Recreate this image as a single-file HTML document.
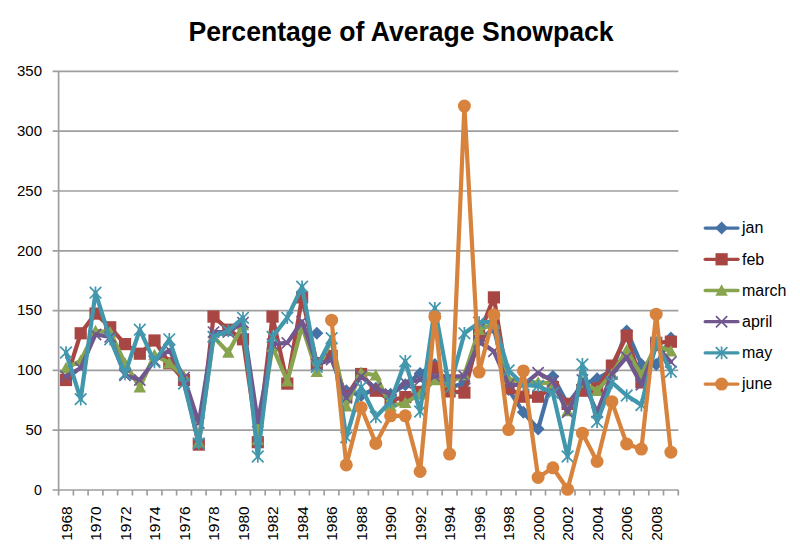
<!DOCTYPE html><html><head><meta charset="utf-8"><style>html,body{margin:0;padding:0;background:#fff;width:800px;height:557px;overflow:hidden}svg{display:block}text{font-family:"Liberation Sans",sans-serif}</style></head><body>
<svg width="800" height="557" viewBox="0 0 800 557">
<rect width="800" height="557" fill="#fff"/>
<text x="401" y="41.3" text-anchor="middle" font-size="27.5" font-weight="bold" fill="#000" textLength="425" lengthAdjust="spacingAndGlyphs">Percentage of Average Snowpack</text>
<path d="M52.6 490.0H678.3 M52.6 430.2H678.3 M52.6 370.4H678.3 M52.6 310.6H678.3 M52.6 250.8H678.3 M52.6 191.0H678.3 M52.6 131.2H678.3 M52.6 71.4H678.3" stroke="#9E9E9E" stroke-width="1.7" fill="none"/>
<path d="M58.6 71.4V490.6" stroke="#9E9E9E" stroke-width="1.7" fill="none"/>
<path d="M58.6 490.0V495.5 M73.4 490.0V495.5 M88.1 490.0V495.5 M102.9 490.0V495.5 M117.6 490.0V495.5 M132.4 490.0V495.5 M147.1 490.0V495.5 M161.9 490.0V495.5 M176.6 490.0V495.5 M191.4 490.0V495.5 M206.1 490.0V495.5 M220.9 490.0V495.5 M235.7 490.0V495.5 M250.4 490.0V495.5 M265.2 490.0V495.5 M279.9 490.0V495.5 M294.7 490.0V495.5 M309.4 490.0V495.5 M324.2 490.0V495.5 M338.9 490.0V495.5 M353.7 490.0V495.5 M368.4 490.0V495.5 M383.2 490.0V495.5 M398.0 490.0V495.5 M412.7 490.0V495.5 M427.5 490.0V495.5 M442.2 490.0V495.5 M457.0 490.0V495.5 M471.7 490.0V495.5 M486.5 490.0V495.5 M501.2 490.0V495.5 M516.0 490.0V495.5 M530.8 490.0V495.5 M545.5 490.0V495.5 M560.3 490.0V495.5 M575.0 490.0V495.5 M589.8 490.0V495.5 M604.5 490.0V495.5 M619.3 490.0V495.5 M634.0 490.0V495.5 M648.8 490.0V495.5 M663.5 490.0V495.5 M678.3 490.0V495.5" stroke="#9E9E9E" stroke-width="1.7" fill="none"/>
<text x="34.1" y="494.8" font-size="15.5" fill="#000" textLength="7.9" lengthAdjust="spacingAndGlyphs">0</text>
<text x="25.4" y="435.0" font-size="15.5" fill="#000" textLength="16.6" lengthAdjust="spacingAndGlyphs">50</text>
<text x="17" y="375.2" font-size="15.5" fill="#000" textLength="25" lengthAdjust="spacingAndGlyphs">100</text>
<text x="17" y="315.4" font-size="15.5" fill="#000" textLength="25" lengthAdjust="spacingAndGlyphs">150</text>
<text x="17" y="255.6" font-size="15.5" fill="#000" textLength="25" lengthAdjust="spacingAndGlyphs">200</text>
<text x="17" y="195.8" font-size="15.5" fill="#000" textLength="25" lengthAdjust="spacingAndGlyphs">250</text>
<text x="17" y="136.0" font-size="15.5" fill="#000" textLength="25" lengthAdjust="spacingAndGlyphs">300</text>
<text x="17" y="76.2" font-size="15.5" fill="#000" textLength="25" lengthAdjust="spacingAndGlyphs">350</text>
<text transform="translate(71.5 540.8) rotate(-90)" text-anchor="start" font-size="15.5" fill="#000">1968</text>
<text transform="translate(101.0 540.8) rotate(-90)" text-anchor="start" font-size="15.5" fill="#000">1970</text>
<text transform="translate(130.5 540.8) rotate(-90)" text-anchor="start" font-size="15.5" fill="#000">1972</text>
<text transform="translate(160.0 540.8) rotate(-90)" text-anchor="start" font-size="15.5" fill="#000">1974</text>
<text transform="translate(189.5 540.8) rotate(-90)" text-anchor="start" font-size="15.5" fill="#000">1976</text>
<text transform="translate(219.0 540.8) rotate(-90)" text-anchor="start" font-size="15.5" fill="#000">1978</text>
<text transform="translate(248.5 540.8) rotate(-90)" text-anchor="start" font-size="15.5" fill="#000">1980</text>
<text transform="translate(278.0 540.8) rotate(-90)" text-anchor="start" font-size="15.5" fill="#000">1982</text>
<text transform="translate(307.6 540.8) rotate(-90)" text-anchor="start" font-size="15.5" fill="#000">1984</text>
<text transform="translate(337.1 540.8) rotate(-90)" text-anchor="start" font-size="15.5" fill="#000">1986</text>
<text transform="translate(366.6 540.8) rotate(-90)" text-anchor="start" font-size="15.5" fill="#000">1988</text>
<text transform="translate(396.1 540.8) rotate(-90)" text-anchor="start" font-size="15.5" fill="#000">1990</text>
<text transform="translate(425.6 540.8) rotate(-90)" text-anchor="start" font-size="15.5" fill="#000">1992</text>
<text transform="translate(455.1 540.8) rotate(-90)" text-anchor="start" font-size="15.5" fill="#000">1994</text>
<text transform="translate(484.6 540.8) rotate(-90)" text-anchor="start" font-size="15.5" fill="#000">1996</text>
<text transform="translate(514.1 540.8) rotate(-90)" text-anchor="start" font-size="15.5" fill="#000">1998</text>
<text transform="translate(543.6 540.8) rotate(-90)" text-anchor="start" font-size="15.5" fill="#000">2000</text>
<text transform="translate(573.1 540.8) rotate(-90)" text-anchor="start" font-size="15.5" fill="#000">2002</text>
<text transform="translate(602.6 540.8) rotate(-90)" text-anchor="start" font-size="15.5" fill="#000">2004</text>
<text transform="translate(632.2 540.8) rotate(-90)" text-anchor="start" font-size="15.5" fill="#000">2006</text>
<text transform="translate(661.7 540.8) rotate(-90)" text-anchor="start" font-size="15.5" fill="#000">2008</text>
<path d="M316.8 333.3M346.3 390.7L361.1 395.5L375.8 388.3L390.6 394.3L405.3 384.8L420.1 373.4L434.8 364.4L449.6 387.1L464.4 383.6L479.1 340.5L493.9 328.5L508.6 389.5L523.4 412.3L538.1 429.0L552.9 376.4L567.6 403.9L582.4 384.8L597.1 378.8L611.9 370.4L626.7 330.9L641.4 364.4L656.2 364.4L670.9 338.1" stroke="#4571A5" stroke-width="4.2" fill="none" stroke-linejoin="round" stroke-linecap="round"/>
<path d="M316.8 326.8L323.3 333.3L316.8 339.8L310.3 333.3Z" fill="#4571A5"/>
<path d="M346.3 384.2L352.8 390.7L346.3 397.2L339.8 390.7Z" fill="#4571A5"/>
<path d="M361.1 389.0L367.6 395.5L361.1 402.0L354.6 395.5Z" fill="#4571A5"/>
<path d="M375.8 381.8L382.3 388.3L375.8 394.8L369.3 388.3Z" fill="#4571A5"/>
<path d="M390.6 387.8L397.1 394.3L390.6 400.8L384.1 394.3Z" fill="#4571A5"/>
<path d="M405.3 378.3L411.8 384.8L405.3 391.3L398.8 384.8Z" fill="#4571A5"/>
<path d="M420.1 366.9L426.6 373.4L420.1 379.9L413.6 373.4Z" fill="#4571A5"/>
<path d="M434.8 357.9L441.3 364.4L434.8 370.9L428.3 364.4Z" fill="#4571A5"/>
<path d="M449.6 380.6L456.1 387.1L449.6 393.6L443.1 387.1Z" fill="#4571A5"/>
<path d="M464.4 377.1L470.9 383.6L464.4 390.1L457.9 383.6Z" fill="#4571A5"/>
<path d="M479.1 334.0L485.6 340.5L479.1 347.0L472.6 340.5Z" fill="#4571A5"/>
<path d="M493.9 322.0L500.4 328.5L493.9 335.0L487.4 328.5Z" fill="#4571A5"/>
<path d="M508.6 383.0L515.1 389.5L508.6 396.0L502.1 389.5Z" fill="#4571A5"/>
<path d="M523.4 405.8L529.9 412.3L523.4 418.8L516.9 412.3Z" fill="#4571A5"/>
<path d="M538.1 422.5L544.6 429.0L538.1 435.5L531.6 429.0Z" fill="#4571A5"/>
<path d="M552.9 369.9L559.4 376.4L552.9 382.9L546.4 376.4Z" fill="#4571A5"/>
<path d="M567.6 397.4L574.1 403.9L567.6 410.4L561.1 403.9Z" fill="#4571A5"/>
<path d="M582.4 378.3L588.9 384.8L582.4 391.3L575.9 384.8Z" fill="#4571A5"/>
<path d="M597.1 372.3L603.6 378.8L597.1 385.3L590.6 378.8Z" fill="#4571A5"/>
<path d="M611.9 363.9L618.4 370.4L611.9 376.9L605.4 370.4Z" fill="#4571A5"/>
<path d="M626.7 324.4L633.2 330.9L626.7 337.4L620.2 330.9Z" fill="#4571A5"/>
<path d="M641.4 357.9L647.9 364.4L641.4 370.9L634.9 364.4Z" fill="#4571A5"/>
<path d="M656.2 357.9L662.7 364.4L656.2 370.9L649.7 364.4Z" fill="#4571A5"/>
<path d="M670.9 331.6L677.4 338.1L670.9 344.6L664.4 338.1Z" fill="#4571A5"/>
<path d="M66.0 380.0L80.7 333.3L95.5 313.6L110.2 327.3L125.0 344.1L139.8 353.7L154.5 340.5L169.3 363.2L184.0 380.0L198.8 444.6L213.5 316.6L228.3 329.7L243.0 339.3L257.8 442.2L272.5 316.6L287.3 383.6L302.1 297.4L316.8 363.2L331.6 356.0L346.3 396.7L361.1 374.0L375.8 390.7L390.6 400.3L405.3 397.1L420.1 391.9L434.8 368.0L449.6 391.4L464.4 392.6L479.1 334.5L493.9 297.4L508.6 388.3L523.4 396.7L538.1 396.7L552.9 387.1L567.6 403.9L582.4 390.7L597.1 388.3L611.9 365.6L626.7 335.7L641.4 382.4L656.2 342.9L670.9 341.7" stroke="#A84643" stroke-width="4.2" fill="none" stroke-linejoin="round" stroke-linecap="round"/>
<rect x="59.9" y="373.9" width="12.2" height="12.2" fill="#A84643"/>
<rect x="74.6" y="327.2" width="12.2" height="12.2" fill="#A84643"/>
<rect x="89.4" y="307.5" width="12.2" height="12.2" fill="#A84643"/>
<rect x="104.1" y="321.2" width="12.2" height="12.2" fill="#A84643"/>
<rect x="118.9" y="338.0" width="12.2" height="12.2" fill="#A84643"/>
<rect x="133.7" y="347.6" width="12.2" height="12.2" fill="#A84643"/>
<rect x="148.4" y="334.4" width="12.2" height="12.2" fill="#A84643"/>
<rect x="163.2" y="357.1" width="12.2" height="12.2" fill="#A84643"/>
<rect x="177.9" y="373.9" width="12.2" height="12.2" fill="#A84643"/>
<rect x="192.7" y="438.5" width="12.2" height="12.2" fill="#A84643"/>
<rect x="207.4" y="310.5" width="12.2" height="12.2" fill="#A84643"/>
<rect x="222.2" y="323.6" width="12.2" height="12.2" fill="#A84643"/>
<rect x="236.9" y="333.2" width="12.2" height="12.2" fill="#A84643"/>
<rect x="251.7" y="436.1" width="12.2" height="12.2" fill="#A84643"/>
<rect x="266.4" y="310.5" width="12.2" height="12.2" fill="#A84643"/>
<rect x="281.2" y="377.5" width="12.2" height="12.2" fill="#A84643"/>
<rect x="296.0" y="291.3" width="12.2" height="12.2" fill="#A84643"/>
<rect x="310.7" y="357.1" width="12.2" height="12.2" fill="#A84643"/>
<rect x="325.5" y="349.9" width="12.2" height="12.2" fill="#A84643"/>
<rect x="340.2" y="390.6" width="12.2" height="12.2" fill="#A84643"/>
<rect x="355.0" y="367.9" width="12.2" height="12.2" fill="#A84643"/>
<rect x="369.7" y="384.6" width="12.2" height="12.2" fill="#A84643"/>
<rect x="384.5" y="394.2" width="12.2" height="12.2" fill="#A84643"/>
<rect x="399.2" y="391.0" width="12.2" height="12.2" fill="#A84643"/>
<rect x="414.0" y="385.8" width="12.2" height="12.2" fill="#A84643"/>
<rect x="428.7" y="361.9" width="12.2" height="12.2" fill="#A84643"/>
<rect x="443.5" y="385.3" width="12.2" height="12.2" fill="#A84643"/>
<rect x="458.3" y="386.5" width="12.2" height="12.2" fill="#A84643"/>
<rect x="473.0" y="328.4" width="12.2" height="12.2" fill="#A84643"/>
<rect x="487.8" y="291.3" width="12.2" height="12.2" fill="#A84643"/>
<rect x="502.5" y="382.2" width="12.2" height="12.2" fill="#A84643"/>
<rect x="517.3" y="390.6" width="12.2" height="12.2" fill="#A84643"/>
<rect x="532.0" y="390.6" width="12.2" height="12.2" fill="#A84643"/>
<rect x="546.8" y="381.0" width="12.2" height="12.2" fill="#A84643"/>
<rect x="561.5" y="397.8" width="12.2" height="12.2" fill="#A84643"/>
<rect x="576.3" y="384.6" width="12.2" height="12.2" fill="#A84643"/>
<rect x="591.0" y="382.2" width="12.2" height="12.2" fill="#A84643"/>
<rect x="605.8" y="359.5" width="12.2" height="12.2" fill="#A84643"/>
<rect x="620.6" y="329.6" width="12.2" height="12.2" fill="#A84643"/>
<rect x="635.3" y="376.3" width="12.2" height="12.2" fill="#A84643"/>
<rect x="650.1" y="336.8" width="12.2" height="12.2" fill="#A84643"/>
<rect x="664.8" y="335.6" width="12.2" height="12.2" fill="#A84643"/>
<path d="M66.0 368.0L80.7 360.8L95.5 330.9L110.2 332.1L125.0 363.2L139.8 387.1L154.5 354.9L169.3 363.2L184.0 376.4L198.8 442.2L213.5 336.9L228.3 352.5L243.0 325.0L257.8 439.8L272.5 346.5L287.3 381.2L302.1 326.1L316.8 371.6L331.6 339.3L346.3 406.3L361.1 372.8L375.8 375.2L390.6 406.3L405.3 402.8L420.1 394.3L434.8 380.0L449.6 382.4L464.4 374.9L479.1 329.7L493.9 323.8L508.6 378.8L523.4 382.4L538.1 382.4L552.9 383.6L567.6 411.1L582.4 382.4L597.1 390.7L611.9 374.0L626.7 350.1L641.4 375.2L656.2 345.3L670.9 351.3" stroke="#88A44E" stroke-width="4.2" fill="none" stroke-linejoin="round" stroke-linecap="round"/>
<path d="M66.0 361.8L72.2 373.3L59.8 373.3Z" fill="#88A44E"/>
<path d="M80.7 354.6L86.9 366.1L74.5 366.1Z" fill="#88A44E"/>
<path d="M95.5 324.7L101.7 336.2L89.3 336.2Z" fill="#88A44E"/>
<path d="M110.2 325.9L116.4 337.4L104.0 337.4Z" fill="#88A44E"/>
<path d="M125.0 357.0L131.2 368.5L118.8 368.5Z" fill="#88A44E"/>
<path d="M139.8 380.9L146.0 392.4L133.6 392.4Z" fill="#88A44E"/>
<path d="M154.5 348.7L160.7 360.1L148.3 360.1Z" fill="#88A44E"/>
<path d="M169.3 357.0L175.5 368.5L163.1 368.5Z" fill="#88A44E"/>
<path d="M184.0 370.2L190.2 381.6L177.8 381.6Z" fill="#88A44E"/>
<path d="M198.8 436.0L205.0 447.4L192.6 447.4Z" fill="#88A44E"/>
<path d="M213.5 330.7L219.7 342.2L207.3 342.2Z" fill="#88A44E"/>
<path d="M228.3 346.3L234.5 357.7L222.1 357.7Z" fill="#88A44E"/>
<path d="M243.0 318.8L249.2 330.2L236.8 330.2Z" fill="#88A44E"/>
<path d="M257.8 433.6L264.0 445.0L251.6 445.0Z" fill="#88A44E"/>
<path d="M272.5 340.3L278.7 351.8L266.3 351.8Z" fill="#88A44E"/>
<path d="M287.3 375.0L293.5 386.4L281.1 386.4Z" fill="#88A44E"/>
<path d="M302.1 319.9L308.3 331.4L295.9 331.4Z" fill="#88A44E"/>
<path d="M316.8 365.4L323.0 376.9L310.6 376.9Z" fill="#88A44E"/>
<path d="M331.6 333.1L337.8 344.6L325.4 344.6Z" fill="#88A44E"/>
<path d="M346.3 400.1L352.5 411.5L340.1 411.5Z" fill="#88A44E"/>
<path d="M361.1 366.6L367.3 378.1L354.9 378.1Z" fill="#88A44E"/>
<path d="M375.8 369.0L382.0 380.5L369.6 380.5Z" fill="#88A44E"/>
<path d="M390.6 400.1L396.8 411.5L384.4 411.5Z" fill="#88A44E"/>
<path d="M405.3 396.6L411.5 408.1L399.1 408.1Z" fill="#88A44E"/>
<path d="M420.1 388.1L426.3 399.6L413.9 399.6Z" fill="#88A44E"/>
<path d="M434.8 373.8L441.0 385.2L428.6 385.2Z" fill="#88A44E"/>
<path d="M449.6 376.2L455.8 387.6L443.4 387.6Z" fill="#88A44E"/>
<path d="M464.4 368.7L470.6 380.2L458.2 380.2Z" fill="#88A44E"/>
<path d="M479.1 323.5L485.3 335.0L472.9 335.0Z" fill="#88A44E"/>
<path d="M493.9 317.6L500.1 329.0L487.7 329.0Z" fill="#88A44E"/>
<path d="M508.6 372.6L514.8 384.0L502.4 384.0Z" fill="#88A44E"/>
<path d="M523.4 376.2L529.6 387.6L517.2 387.6Z" fill="#88A44E"/>
<path d="M538.1 376.2L544.3 387.6L531.9 387.6Z" fill="#88A44E"/>
<path d="M552.9 377.4L559.1 388.8L546.7 388.8Z" fill="#88A44E"/>
<path d="M567.6 404.9L573.8 416.3L561.4 416.3Z" fill="#88A44E"/>
<path d="M582.4 376.2L588.6 387.6L576.2 387.6Z" fill="#88A44E"/>
<path d="M597.1 384.5L603.3 396.0L590.9 396.0Z" fill="#88A44E"/>
<path d="M611.9 367.8L618.1 379.3L605.7 379.3Z" fill="#88A44E"/>
<path d="M626.7 343.9L632.9 355.3L620.5 355.3Z" fill="#88A44E"/>
<path d="M641.4 369.0L647.6 380.5L635.2 380.5Z" fill="#88A44E"/>
<path d="M656.2 339.1L662.4 350.6L650.0 350.6Z" fill="#88A44E"/>
<path d="M670.9 345.1L677.1 356.5L664.7 356.5Z" fill="#88A44E"/>
<path d="M66.0 376.4L80.7 368.0L95.5 334.5L110.2 336.9L125.0 375.2L139.8 380.0L154.5 360.8L169.3 350.1L184.0 377.6L198.8 423.0L213.5 332.1L228.3 332.1L243.0 322.6L257.8 421.8L272.5 344.1L287.3 342.9L302.1 321.4L316.8 364.4L331.6 359.6L346.3 397.9L361.1 376.4L375.8 388.3L390.6 394.3L405.3 382.7L420.1 380.0L434.8 376.4L449.6 376.4L464.4 376.4L479.1 341.7L493.9 351.3L508.6 384.8L523.4 384.8L538.1 372.8L552.9 381.2L567.6 412.3L582.4 380.0L597.1 412.3L611.9 374.0L626.7 357.2L641.4 384.8L656.2 346.5L670.9 362.0" stroke="#70588E" stroke-width="4.2" fill="none" stroke-linejoin="round" stroke-linecap="round"/>
<path d="M60.4 370.8L71.6 382.0M71.6 370.8L60.4 382.0" stroke="#70588E" stroke-width="1.7" fill="none"/>
<path d="M75.1 362.4L86.3 373.6M86.3 362.4L75.1 373.6" stroke="#70588E" stroke-width="1.7" fill="none"/>
<path d="M89.9 328.9L101.1 340.1M101.1 328.9L89.9 340.1" stroke="#70588E" stroke-width="1.7" fill="none"/>
<path d="M104.6 331.3L115.8 342.5M115.8 331.3L104.6 342.5" stroke="#70588E" stroke-width="1.7" fill="none"/>
<path d="M119.4 369.6L130.6 380.8M130.6 369.6L119.4 380.8" stroke="#70588E" stroke-width="1.7" fill="none"/>
<path d="M134.2 374.4L145.4 385.6M145.4 374.4L134.2 385.6" stroke="#70588E" stroke-width="1.7" fill="none"/>
<path d="M148.9 355.2L160.1 366.4M160.1 355.2L148.9 366.4" stroke="#70588E" stroke-width="1.7" fill="none"/>
<path d="M163.7 344.5L174.9 355.7M174.9 344.5L163.7 355.7" stroke="#70588E" stroke-width="1.7" fill="none"/>
<path d="M178.4 372.0L189.6 383.2M189.6 372.0L178.4 383.2" stroke="#70588E" stroke-width="1.7" fill="none"/>
<path d="M193.2 417.4L204.4 428.6M204.4 417.4L193.2 428.6" stroke="#70588E" stroke-width="1.7" fill="none"/>
<path d="M207.9 326.5L219.1 337.7M219.1 326.5L207.9 337.7" stroke="#70588E" stroke-width="1.7" fill="none"/>
<path d="M222.7 326.5L233.9 337.7M233.9 326.5L222.7 337.7" stroke="#70588E" stroke-width="1.7" fill="none"/>
<path d="M237.4 317.0L248.6 328.2M248.6 317.0L237.4 328.2" stroke="#70588E" stroke-width="1.7" fill="none"/>
<path d="M252.2 416.2L263.4 427.4M263.4 416.2L252.2 427.4" stroke="#70588E" stroke-width="1.7" fill="none"/>
<path d="M266.9 338.5L278.1 349.7M278.1 338.5L266.9 349.7" stroke="#70588E" stroke-width="1.7" fill="none"/>
<path d="M281.7 337.3L292.9 348.5M292.9 337.3L281.7 348.5" stroke="#70588E" stroke-width="1.7" fill="none"/>
<path d="M296.5 315.8L307.7 327.0M307.7 315.8L296.5 327.0" stroke="#70588E" stroke-width="1.7" fill="none"/>
<path d="M311.2 358.8L322.4 370.0M322.4 358.8L311.2 370.0" stroke="#70588E" stroke-width="1.7" fill="none"/>
<path d="M326.0 354.0L337.2 365.2M337.2 354.0L326.0 365.2" stroke="#70588E" stroke-width="1.7" fill="none"/>
<path d="M340.7 392.3L351.9 403.5M351.9 392.3L340.7 403.5" stroke="#70588E" stroke-width="1.7" fill="none"/>
<path d="M355.5 370.8L366.7 382.0M366.7 370.8L355.5 382.0" stroke="#70588E" stroke-width="1.7" fill="none"/>
<path d="M370.2 382.7L381.4 393.9M381.4 382.7L370.2 393.9" stroke="#70588E" stroke-width="1.7" fill="none"/>
<path d="M385.0 388.7L396.2 399.9M396.2 388.7L385.0 399.9" stroke="#70588E" stroke-width="1.7" fill="none"/>
<path d="M399.7 377.1L410.9 388.3M410.9 377.1L399.7 388.3" stroke="#70588E" stroke-width="1.7" fill="none"/>
<path d="M414.5 374.4L425.7 385.6M425.7 374.4L414.5 385.6" stroke="#70588E" stroke-width="1.7" fill="none"/>
<path d="M429.2 370.8L440.4 382.0M440.4 370.8L429.2 382.0" stroke="#70588E" stroke-width="1.7" fill="none"/>
<path d="M444.0 370.8L455.2 382.0M455.2 370.8L444.0 382.0" stroke="#70588E" stroke-width="1.7" fill="none"/>
<path d="M458.8 370.8L470.0 382.0M470.0 370.8L458.8 382.0" stroke="#70588E" stroke-width="1.7" fill="none"/>
<path d="M473.5 336.1L484.7 347.3M484.7 336.1L473.5 347.3" stroke="#70588E" stroke-width="1.7" fill="none"/>
<path d="M488.3 345.7L499.5 356.9M499.5 345.7L488.3 356.9" stroke="#70588E" stroke-width="1.7" fill="none"/>
<path d="M503.0 379.2L514.2 390.4M514.2 379.2L503.0 390.4" stroke="#70588E" stroke-width="1.7" fill="none"/>
<path d="M517.8 379.2L529.0 390.4M529.0 379.2L517.8 390.4" stroke="#70588E" stroke-width="1.7" fill="none"/>
<path d="M532.5 367.2L543.7 378.4M543.7 367.2L532.5 378.4" stroke="#70588E" stroke-width="1.7" fill="none"/>
<path d="M547.3 375.6L558.5 386.8M558.5 375.6L547.3 386.8" stroke="#70588E" stroke-width="1.7" fill="none"/>
<path d="M562.0 406.7L573.2 417.9M573.2 406.7L562.0 417.9" stroke="#70588E" stroke-width="1.7" fill="none"/>
<path d="M576.8 374.4L588.0 385.6M588.0 374.4L576.8 385.6" stroke="#70588E" stroke-width="1.7" fill="none"/>
<path d="M591.5 406.7L602.7 417.9M602.7 406.7L591.5 417.9" stroke="#70588E" stroke-width="1.7" fill="none"/>
<path d="M606.3 368.4L617.5 379.6M617.5 368.4L606.3 379.6" stroke="#70588E" stroke-width="1.7" fill="none"/>
<path d="M621.1 351.6L632.3 362.8M632.3 351.6L621.1 362.8" stroke="#70588E" stroke-width="1.7" fill="none"/>
<path d="M635.8 379.2L647.0 390.4M647.0 379.2L635.8 390.4" stroke="#70588E" stroke-width="1.7" fill="none"/>
<path d="M650.6 340.9L661.8 352.1M661.8 340.9L650.6 352.1" stroke="#70588E" stroke-width="1.7" fill="none"/>
<path d="M665.3 356.4L676.5 367.6M676.5 356.4L665.3 367.6" stroke="#70588E" stroke-width="1.7" fill="none"/>
<path d="M66.0 352.5L80.7 399.1L95.5 292.7L110.2 339.3L125.0 374.0L139.8 329.7L154.5 362.0L169.3 339.3L184.0 383.6L198.8 443.4L213.5 336.9L228.3 330.9L243.0 317.8L257.8 456.5L272.5 336.9L287.3 317.8L302.1 286.7L316.8 366.8L331.6 338.1L346.3 437.4L361.1 387.1L375.8 417.0L390.6 401.5L405.3 361.3L420.1 411.5L434.8 308.2L449.6 388.3L464.4 333.3L479.1 322.6L493.9 321.4L508.6 370.4L523.4 384.8L538.1 385.9L552.9 393.1L567.6 456.5L582.4 364.4L597.1 421.8L611.9 382.4L626.7 395.5L641.4 405.1L656.2 342.9L670.9 371.6" stroke="#4297AD" stroke-width="4.2" fill="none" stroke-linejoin="round" stroke-linecap="round"/>
<path d="M60.2 346.7L71.8 358.3M71.8 346.7L60.2 358.3M66.0 346.2L66.0 358.8" stroke="#4297AD" stroke-width="1.7" fill="none"/>
<path d="M74.9 393.3L86.5 404.9M86.5 393.3L74.9 404.9M80.7 392.8L80.7 405.4" stroke="#4297AD" stroke-width="1.7" fill="none"/>
<path d="M89.7 286.9L101.3 298.5M101.3 286.9L89.7 298.5M95.5 286.4L95.5 299.0" stroke="#4297AD" stroke-width="1.7" fill="none"/>
<path d="M104.4 333.5L116.0 345.1M116.0 333.5L104.4 345.1M110.2 333.0L110.2 345.6" stroke="#4297AD" stroke-width="1.7" fill="none"/>
<path d="M119.2 368.2L130.8 379.8M130.8 368.2L119.2 379.8M125.0 367.7L125.0 380.3" stroke="#4297AD" stroke-width="1.7" fill="none"/>
<path d="M134.0 323.9L145.6 335.5M145.6 323.9L134.0 335.5M139.8 323.4L139.8 336.0" stroke="#4297AD" stroke-width="1.7" fill="none"/>
<path d="M148.7 356.2L160.3 367.8M160.3 356.2L148.7 367.8M154.5 355.7L154.5 368.3" stroke="#4297AD" stroke-width="1.7" fill="none"/>
<path d="M163.5 333.5L175.1 345.1M175.1 333.5L163.5 345.1M169.3 333.0L169.3 345.6" stroke="#4297AD" stroke-width="1.7" fill="none"/>
<path d="M178.2 377.8L189.8 389.4M189.8 377.8L178.2 389.4M184.0 377.3L184.0 389.9" stroke="#4297AD" stroke-width="1.7" fill="none"/>
<path d="M193.0 437.6L204.6 449.2M204.6 437.6L193.0 449.2M198.8 437.1L198.8 449.7" stroke="#4297AD" stroke-width="1.7" fill="none"/>
<path d="M207.7 331.1L219.3 342.7M219.3 331.1L207.7 342.7M213.5 330.6L213.5 343.2" stroke="#4297AD" stroke-width="1.7" fill="none"/>
<path d="M222.5 325.1L234.1 336.7M234.1 325.1L222.5 336.7M228.3 324.6L228.3 337.2" stroke="#4297AD" stroke-width="1.7" fill="none"/>
<path d="M237.2 312.0L248.8 323.6M248.8 312.0L237.2 323.6M243.0 311.5L243.0 324.1" stroke="#4297AD" stroke-width="1.7" fill="none"/>
<path d="M252.0 450.7L263.6 462.3M263.6 450.7L252.0 462.3M257.8 450.2L257.8 462.8" stroke="#4297AD" stroke-width="1.7" fill="none"/>
<path d="M266.7 331.1L278.3 342.7M278.3 331.1L266.7 342.7M272.5 330.6L272.5 343.2" stroke="#4297AD" stroke-width="1.7" fill="none"/>
<path d="M281.5 312.0L293.1 323.6M293.1 312.0L281.5 323.6M287.3 311.5L287.3 324.1" stroke="#4297AD" stroke-width="1.7" fill="none"/>
<path d="M296.3 280.9L307.9 292.5M307.9 280.9L296.3 292.5M302.1 280.4L302.1 293.0" stroke="#4297AD" stroke-width="1.7" fill="none"/>
<path d="M311.0 361.0L322.6 372.6M322.6 361.0L311.0 372.6M316.8 360.5L316.8 373.1" stroke="#4297AD" stroke-width="1.7" fill="none"/>
<path d="M325.8 332.3L337.4 343.9M337.4 332.3L325.8 343.9M331.6 331.8L331.6 344.4" stroke="#4297AD" stroke-width="1.7" fill="none"/>
<path d="M340.5 431.6L352.1 443.2M352.1 431.6L340.5 443.2M346.3 431.1L346.3 443.7" stroke="#4297AD" stroke-width="1.7" fill="none"/>
<path d="M355.3 381.3L366.9 392.9M366.9 381.3L355.3 392.9M361.1 380.8L361.1 393.4" stroke="#4297AD" stroke-width="1.7" fill="none"/>
<path d="M370.0 411.2L381.6 422.8M381.6 411.2L370.0 422.8M375.8 410.7L375.8 423.3" stroke="#4297AD" stroke-width="1.7" fill="none"/>
<path d="M384.8 395.7L396.4 407.3M396.4 395.7L384.8 407.3M390.6 395.2L390.6 407.8" stroke="#4297AD" stroke-width="1.7" fill="none"/>
<path d="M399.5 355.5L411.1 367.1M411.1 355.5L399.5 367.1M405.3 355.0L405.3 367.6" stroke="#4297AD" stroke-width="1.7" fill="none"/>
<path d="M414.3 405.7L425.9 417.3M425.9 405.7L414.3 417.3M420.1 405.2L420.1 417.8" stroke="#4297AD" stroke-width="1.7" fill="none"/>
<path d="M429.0 302.4L440.6 314.0M440.6 302.4L429.0 314.0M434.8 301.9L434.8 314.5" stroke="#4297AD" stroke-width="1.7" fill="none"/>
<path d="M443.8 382.5L455.4 394.1M455.4 382.5L443.8 394.1M449.6 382.0L449.6 394.6" stroke="#4297AD" stroke-width="1.7" fill="none"/>
<path d="M458.6 327.5L470.2 339.1M470.2 327.5L458.6 339.1M464.4 327.0L464.4 339.6" stroke="#4297AD" stroke-width="1.7" fill="none"/>
<path d="M473.3 316.8L484.9 328.4M484.9 316.8L473.3 328.4M479.1 316.3L479.1 328.9" stroke="#4297AD" stroke-width="1.7" fill="none"/>
<path d="M488.1 315.6L499.7 327.2M499.7 315.6L488.1 327.2M493.9 315.1L493.9 327.7" stroke="#4297AD" stroke-width="1.7" fill="none"/>
<path d="M502.8 364.6L514.4 376.2M514.4 364.6L502.8 376.2M508.6 364.1L508.6 376.7" stroke="#4297AD" stroke-width="1.7" fill="none"/>
<path d="M517.6 379.0L529.2 390.6M529.2 379.0L517.6 390.6M523.4 378.5L523.4 391.1" stroke="#4297AD" stroke-width="1.7" fill="none"/>
<path d="M532.3 380.1L543.9 391.7M543.9 380.1L532.3 391.7M538.1 379.6L538.1 392.2" stroke="#4297AD" stroke-width="1.7" fill="none"/>
<path d="M547.1 387.3L558.7 398.9M558.7 387.3L547.1 398.9M552.9 386.8L552.9 399.4" stroke="#4297AD" stroke-width="1.7" fill="none"/>
<path d="M561.8 450.7L573.4 462.3M573.4 450.7L561.8 462.3M567.6 450.2L567.6 462.8" stroke="#4297AD" stroke-width="1.7" fill="none"/>
<path d="M576.6 358.6L588.2 370.2M588.2 358.6L576.6 370.2M582.4 358.1L582.4 370.7" stroke="#4297AD" stroke-width="1.7" fill="none"/>
<path d="M591.3 416.0L602.9 427.6M602.9 416.0L591.3 427.6M597.1 415.5L597.1 428.1" stroke="#4297AD" stroke-width="1.7" fill="none"/>
<path d="M606.1 376.6L617.7 388.2M617.7 376.6L606.1 388.2M611.9 376.1L611.9 388.7" stroke="#4297AD" stroke-width="1.7" fill="none"/>
<path d="M620.9 389.7L632.5 401.3M632.5 389.7L620.9 401.3M626.7 389.2L626.7 401.8" stroke="#4297AD" stroke-width="1.7" fill="none"/>
<path d="M635.6 399.3L647.2 410.9M647.2 399.3L635.6 410.9M641.4 398.8L641.4 411.4" stroke="#4297AD" stroke-width="1.7" fill="none"/>
<path d="M650.4 337.1L662.0 348.7M662.0 337.1L650.4 348.7M656.2 336.6L656.2 349.2" stroke="#4297AD" stroke-width="1.7" fill="none"/>
<path d="M665.1 365.8L676.7 377.4M676.7 365.8L665.1 377.4M670.9 365.3L670.9 377.9" stroke="#4297AD" stroke-width="1.7" fill="none"/>
<path d="M331.6 320.2L346.3 464.9L361.1 407.5L375.8 443.4L390.6 415.8L405.3 415.8L420.1 471.5L434.8 316.8L449.6 454.1L464.4 106.1L479.1 372.1L493.9 314.8L508.6 429.6L523.4 370.9L538.1 477.4L552.9 467.8L567.6 489.3L582.4 433.2L597.1 461.5L611.9 401.7L626.7 444.0L641.4 449.1L656.2 314.2L670.9 452.2" stroke="#D8833D" stroke-width="4.2" fill="none" stroke-linejoin="round" stroke-linecap="round"/>
<circle cx="331.6" cy="320.2" r="6.5" fill="#D8833D"/>
<circle cx="346.3" cy="464.9" r="6.5" fill="#D8833D"/>
<circle cx="361.1" cy="407.5" r="6.5" fill="#D8833D"/>
<circle cx="375.8" cy="443.4" r="6.5" fill="#D8833D"/>
<circle cx="390.6" cy="415.8" r="6.5" fill="#D8833D"/>
<circle cx="405.3" cy="415.8" r="6.5" fill="#D8833D"/>
<circle cx="420.1" cy="471.5" r="6.5" fill="#D8833D"/>
<circle cx="434.8" cy="316.8" r="6.5" fill="#D8833D"/>
<circle cx="449.6" cy="454.1" r="6.5" fill="#D8833D"/>
<circle cx="464.4" cy="106.1" r="6.5" fill="#D8833D"/>
<circle cx="479.1" cy="372.1" r="6.5" fill="#D8833D"/>
<circle cx="493.9" cy="314.8" r="6.5" fill="#D8833D"/>
<circle cx="508.6" cy="429.6" r="6.5" fill="#D8833D"/>
<circle cx="523.4" cy="370.9" r="6.5" fill="#D8833D"/>
<circle cx="538.1" cy="477.4" r="6.5" fill="#D8833D"/>
<circle cx="552.9" cy="467.8" r="6.5" fill="#D8833D"/>
<circle cx="567.6" cy="489.3" r="6.5" fill="#D8833D"/>
<circle cx="582.4" cy="433.2" r="6.5" fill="#D8833D"/>
<circle cx="597.1" cy="461.5" r="6.5" fill="#D8833D"/>
<circle cx="611.9" cy="401.7" r="6.5" fill="#D8833D"/>
<circle cx="626.7" cy="444.0" r="6.5" fill="#D8833D"/>
<circle cx="641.4" cy="449.1" r="6.5" fill="#D8833D"/>
<circle cx="656.2" cy="314.2" r="6.5" fill="#D8833D"/>
<circle cx="670.9" cy="452.2" r="6.5" fill="#D8833D"/>
<path d="M705.2 228.1H738" stroke="#4571A5" stroke-width="3.3" fill="none" stroke-linecap="round"/>
<path d="M721.6 221.6L728.1 228.1L721.6 234.6L715.1 228.1Z" fill="#4571A5"/>
<text x="742" y="233.4" font-size="16" fill="#000">jan</text>
<path d="M705.2 259.3H738" stroke="#A84643" stroke-width="3.3" fill="none" stroke-linecap="round"/>
<rect x="715.5" y="253.2" width="12.2" height="12.2" fill="#A84643"/>
<text x="742" y="264.6" font-size="16" fill="#000">feb</text>
<path d="M705.2 290.5H738" stroke="#88A44E" stroke-width="3.3" fill="none" stroke-linecap="round"/>
<path d="M721.6 284.3L727.8 295.8L715.4 295.8Z" fill="#88A44E"/>
<text x="742" y="295.8" font-size="16" fill="#000">march</text>
<path d="M705.2 321.7H738" stroke="#70588E" stroke-width="3.3" fill="none" stroke-linecap="round"/>
<path d="M716.0 316.1L727.2 327.3M727.2 316.1L716.0 327.3" stroke="#70588E" stroke-width="1.7" fill="none"/>
<text x="742" y="327.0" font-size="16" fill="#000">april</text>
<path d="M705.2 352.9H738" stroke="#4297AD" stroke-width="3.3" fill="none" stroke-linecap="round"/>
<path d="M715.8 347.1L727.4 358.7M727.4 347.1L715.8 358.7M721.6 346.6L721.6 359.2" stroke="#4297AD" stroke-width="1.7" fill="none"/>
<text x="742" y="358.2" font-size="16" fill="#000">may</text>
<path d="M705.2 384.1H738" stroke="#D8833D" stroke-width="3.3" fill="none" stroke-linecap="round"/>
<circle cx="721.6" cy="384.1" r="6.5" fill="#D8833D"/>
<text x="742" y="389.4" font-size="16" fill="#000">june</text>
</svg></body></html>
